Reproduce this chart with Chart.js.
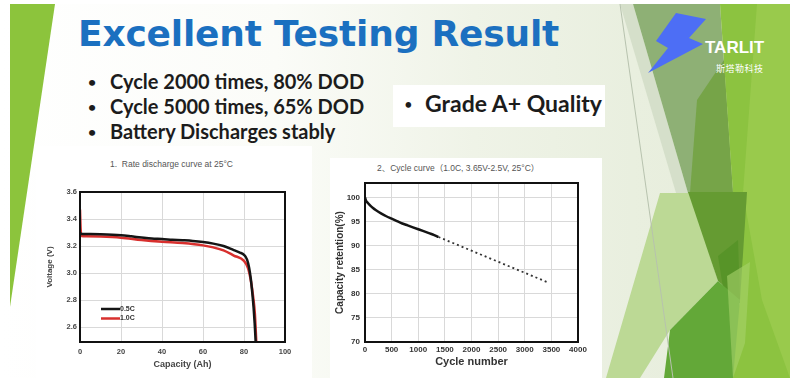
<!DOCTYPE html>
<html>
<head>
<meta charset="utf-8">
<script src="https://cdn.jsdelivr.net/npm/chart.js@4.4.1/dist/chart.umd.min.js"></script>
<style>
html, body { margin: 0; padding: 0; width: 800px; height: 386px; overflow: hidden; background: #fff; }
.abs { position: absolute; }
#slideBg { left: 0; top: 4px; width: 790px; height: 374px;
  background: linear-gradient(90deg, #ffffff 0%, #fbfcf8 35%, #eff3e7 60%, #e9efdf 80%, #e6ecda 100%); }
#deco { left: 0; top: 0; }
#title { left: 78px; top: 13px; font-family: 'DejaVu Sans', Verdana, sans-serif; font-weight: bold;
  font-size: 36px; color: #1b70c0; white-space: nowrap; letter-spacing: -0.2px; }
.bullets { left: 88px; top: 69px; font-family: Lato, 'Open Sans', sans-serif; font-weight: bold;
  font-size: 20px; line-height: 25px; color: #1c1c1c; white-space: nowrap; }
.bullets div { position: relative; padding-left: 22px; }
.dot { position: absolute; left: 0; top: 0; font-size: 14px; }
#gradeBox { left: 393px; top: 85px; width: 212px; height: 42px; background: #fff; }
#gradeDot { left: 404px; top: 95px; font-family: Lato, sans-serif; font-size: 15px; color: #1c1c1c; }
#grade { left: 425px; top: 89px; font-family: Lato, 'Open Sans', sans-serif; font-weight: bold;
  font-size: 23px; color: #1c1c1c; white-space: nowrap; }
#logoText { left: 705px; top: 38px; font-family: 'Liberation Sans', Arial, sans-serif; font-weight: bold;
  font-size: 17px; color: #fff; }
#logoCn { left: 716px; top: 62px; font-family: 'Noto Sans CJK SC', sans-serif; font-size: 9px; color: #fff; letter-spacing: 0.5px; }
#panelL { left: 36px; top: 146px; width: 276px; height: 232px; background: #fff; }
#panelR { left: 330px; top: 158px; width: 272px; height: 220px; background: #fff; }
.ctitle { font-family: 'Liberation Sans', 'Noto Sans CJK SC', sans-serif; font-size: 8.5px; color: #555; white-space: nowrap; }
#rateTitle { left: 110px; top: 159px; }
#cycleTitle { left: 377px; top: 161px; }
#rateChart { left: 40px; top: 175px; }
#cycleChart { left: 325px; top: 172px; }
</style>
</head>
<body>
<div id="slideBg" class="abs"></div>
<svg id="deco" class="abs" width="800" height="386">
  <polygon points="10,4 55,4 10,307" fill="#8cc43c"/>
  <polygon points="620,4 633,4 688,193 676,193" fill="#d5dfca"/>
  <polygon points="660,193 690,193 718,281 670,330 640,378 606,378" fill="#bcd995"/>
  <polygon points="633,4 720,4 733,193 688,193" fill="#8eb075"/>
  <polygon points="697,100 724,60 733,193 690,193" fill="#76a448"/>
  <polygon points="720,4 790,4 790,378 727,378 740,300 733,193" fill="#8cc340"/>
  <polygon points="757,4 790,4 790,378 762,300 743,193" fill="#99ca4c"/>
  <polygon points="688,192 747,192 740,300 718,281" fill="#659b32"/>
  <polygon points="718,256 738,240 740,303 725,300" fill="#579428"/>
  <polygon points="718,281 740,300 733,378 664,378 670,330" fill="#63a838"/>
  <polygon points="727,276 750,262 745,343 733,378" fill="#a7d26a" fill-opacity="0.6"/>
  <line x1="620" y1="4" x2="673" y2="378" stroke="#b7c2ae" stroke-width="1"/>
  <polygon points="676,13 706,19 689,38 703,44 648,73 668,48 656,41" fill="#4d6ef5"/>
</svg>
<div id="title" class="abs">Excellent Testing Result</div>
<div class="abs bullets">
  <div><span class="dot">•</span>Cycle 2000 times, 80% DOD</div>
  <div><span class="dot">•</span>Cycle 5000 times, 65% DOD</div>
  <div><span class="dot">•</span>Battery Discharges stably</div>
</div>
<div id="gradeBox" class="abs"></div>
<div id="gradeDot" class="abs">•</div>
<div id="grade" class="abs">Grade A+ Quality</div>
<div id="logoText" class="abs">TARLIT</div>
<div id="logoCn" class="abs">斯塔勒科技</div>
<div id="panelL" class="abs"></div>
<div id="panelR" class="abs"></div>
<div id="rateTitle" class="abs ctitle">1.&nbsp; Rate discharge curve at 25°C</div>
<div id="cycleTitle" class="abs ctitle">2、Cycle curve（1.0C, 3.65V-2.5V, 25°C）</div>
<canvas id="rateChart" class="abs" width="262" height="200"></canvas>
<canvas id="cycleChart" class="abs" width="275" height="205"></canvas>

<script>
// rate discharge curve, 25°C
var seriesLabels = ['0.5C', '1.0C'];
var capacity05 = [0, 0.5, 5, 10, 20, 25, 30, 35, 40, 45, 50, 55, 60, 65, 70, 75, 78, 80, 81.5, 82.5, 83.3, 84, 84.7, 85.2, 85.7];
var voltage05 = [3.30, 3.29, 3.29, 3.288, 3.28, 3.272, 3.263, 3.255, 3.252, 3.247, 3.243, 3.238, 3.23, 3.218, 3.2, 3.17, 3.152, 3.135, 3.1, 3.04, 2.96, 2.86, 2.74, 2.63, 2.49];
var capacity10 = [0, 0.3, 0.8, 3, 10, 20, 30, 40, 50, 60, 65, 70, 75, 80, 82, 83.5, 84.5, 85.3, 86];
var voltage10 = [3.47, 3.33, 3.275, 3.272, 3.27, 3.262, 3.245, 3.232, 3.222, 3.205, 3.19, 3.168, 3.13, 3.09, 3.035, 2.93, 2.82, 2.7, 2.49];

// cycle curve, 1.0C
var cycleMeasured = [0, 20, 50, 100, 150, 200, 300, 400, 500, 600, 700, 800, 900, 1000, 1100, 1200, 1300, 1380];
var retentionMeasured = [100, 99.3, 98.9, 98.3, 97.8, 97.4, 96.7, 96.1, 95.6, 95.1, 94.6, 94.2, 93.8, 93.4, 93.0, 92.6, 92.2, 91.8];
var cycleTrend = [1380, 3450];
var retentionTrend = [91.8, 82.3];

function pts(xs, ys) {
    return xs.map(function(x, i) { return { x: x, y: ys[i] }; });
}

var fontFamily = "'Liberation Sans', Arial, sans-serif";
var tickFont = { family: fontFamily, size: 7.5, weight: 'bold' };
var gridStyle = { color: '#d9d9d9', lineWidth: 1, drawTicks: false };

// full black box round the plot
var framePlugin = {
    id: 'frame',
    afterDraw: function(chart) {
        var a = chart.chartArea, ctx = chart.ctx;
        ctx.save();
        ctx.strokeStyle = '#111';
        ctx.lineWidth = 2;
        ctx.strokeRect(a.left, a.top, a.right - a.left, a.bottom - a.top);
        ctx.restore();
    }
};

// legend sits inside the plot, lower left
var insideLegend = {
    id: 'insideLegend',
    afterDatasetsDraw: function(chart) {
        var a = chart.chartArea, ctx = chart.ctx;
        ctx.save();
        ctx.font = "bold 7px " + fontFamily;
        ctx.textBaseline = 'middle';
        chart.data.datasets.forEach(function(ds, i) {
            var y = a.bottom - 33 + i * 9.5;
            ctx.strokeStyle = ds.borderColor;
            ctx.lineWidth = 2.5;
            ctx.beginPath();
            ctx.moveTo(a.left + 21, y);
            ctx.lineTo(a.left + 40, y);
            ctx.stroke();
            ctx.fillStyle = '#333';
            ctx.fillText(ds.label, a.left + 40, y);
        });
        ctx.restore();
    }
};

new Chart(document.getElementById('rateChart'), {
    type: 'line',
    data: {
        datasets: [{
            label: seriesLabels[0],
            data: pts(capacity05, voltage05),
            borderColor: '#151515',
            borderWidth: 2.5,
            pointRadius: 0,
            cubicInterpolationMode: 'monotone'
        }, {
            label: seriesLabels[1],
            data: pts(capacity10, voltage10),
            borderColor: '#d8302e',
            borderWidth: 2.5,
            pointRadius: 0,
            cubicInterpolationMode: 'monotone'
        }]
    },
    options: {
        responsive: false,
        animation: false,
        layout: { padding: { top: 17, right: 17, left: 0, bottom: 0 } },
        plugins: { legend: { display: false }, tooltip: { enabled: false } },
        scales: {
            x: {
                type: 'linear', min: 0, max: 100,
                grid: gridStyle,
                border: { display: false },
                ticks: { stepSize: 10, padding: 5, color: '#444', font: tickFont, maxRotation: 0,
                    callback: function(v) { return v % 20 === 0 ? String(v) : null; } },
                title: { display: true, text: 'Capacity (Ah)', color: '#444',
                    font: { family: fontFamily, size: 9, weight: 'bold' },
                    padding: { top: 0, bottom: 5 } },
                afterFit: function(s) { s.height = 33; }
            },
            y: {
                type: 'linear', min: 2.49, max: 3.6,
                grid: gridStyle,
                border: { display: false },
                ticks: { stepSize: 0.1, padding: 3, color: '#444', font: tickFont,
                    callback: function(v) {
                        var k = v * 5;
                        return Math.abs(k - Math.round(k)) < 1e-6 && v >= 2.59 ? v.toFixed(1) : null;
                    } },
                title: { display: true, text: 'Voltage (V)', color: '#444',
                    font: { family: fontFamily, size: 8, weight: 'bold' },
                    padding: { top: 5, bottom: 0 } },
                afterFit: function(s) { s.width = 40; }
            }
        }
    },
    plugins: [framePlugin, insideLegend]
});

new Chart(document.getElementById('cycleChart'), {
    type: 'line',
    data: {
        datasets: [{
            label: 'Measured',
            data: pts(cycleMeasured, retentionMeasured),
            borderColor: '#141414',
            borderWidth: 2.5,
            pointRadius: 0,
            cubicInterpolationMode: 'monotone'
        }, {
            label: 'Trend',
            data: pts(cycleTrend, retentionTrend),
            borderColor: '#333',
            borderWidth: 1.8,
            borderDash: [2, 3],
            pointRadius: 0
        }]
    },
    options: {
        responsive: false,
        animation: false,
        layout: { padding: { top: 11, right: 22, left: 0, bottom: 0 } },
        plugins: { legend: { display: false }, tooltip: { enabled: false } },
        scales: {
            x: {
                type: 'linear', min: 0, max: 4000,
                grid: gridStyle,
                border: { display: false },
                ticks: { stepSize: 500, padding: 3, color: '#333', font: { family: fontFamily, size: 8, weight: 'bold' }, maxRotation: 0,
                    callback: function(v) { return String(v); } },
                title: { display: true, text: 'Cycle number', color: '#333',
                    font: { family: fontFamily, size: 11, weight: 'bold' },
                    padding: { top: 0, bottom: 8 } },
                afterFit: function(s) { s.height = 35; }
            },
            y: {
                type: 'linear', min: 70, max: 103,
                grid: gridStyle,
                border: { display: false },
                ticks: { stepSize: 2.5, padding: 5, color: '#333', font: { family: fontFamily, size: 8, weight: 'bold' },
                    callback: function(v) { return v % 5 === 0 ? String(v) : null; } },
                title: { display: true, text: 'Capacity retention(%)', color: '#333',
                    font: { family: fontFamily, size: 10, weight: 'bold' },
                    padding: { top: 9, bottom: 0 } },
                afterFit: function(s) { s.width = 40; }
            }
        }
    },
    plugins: [framePlugin]
});
</script>
</body>
</html>
